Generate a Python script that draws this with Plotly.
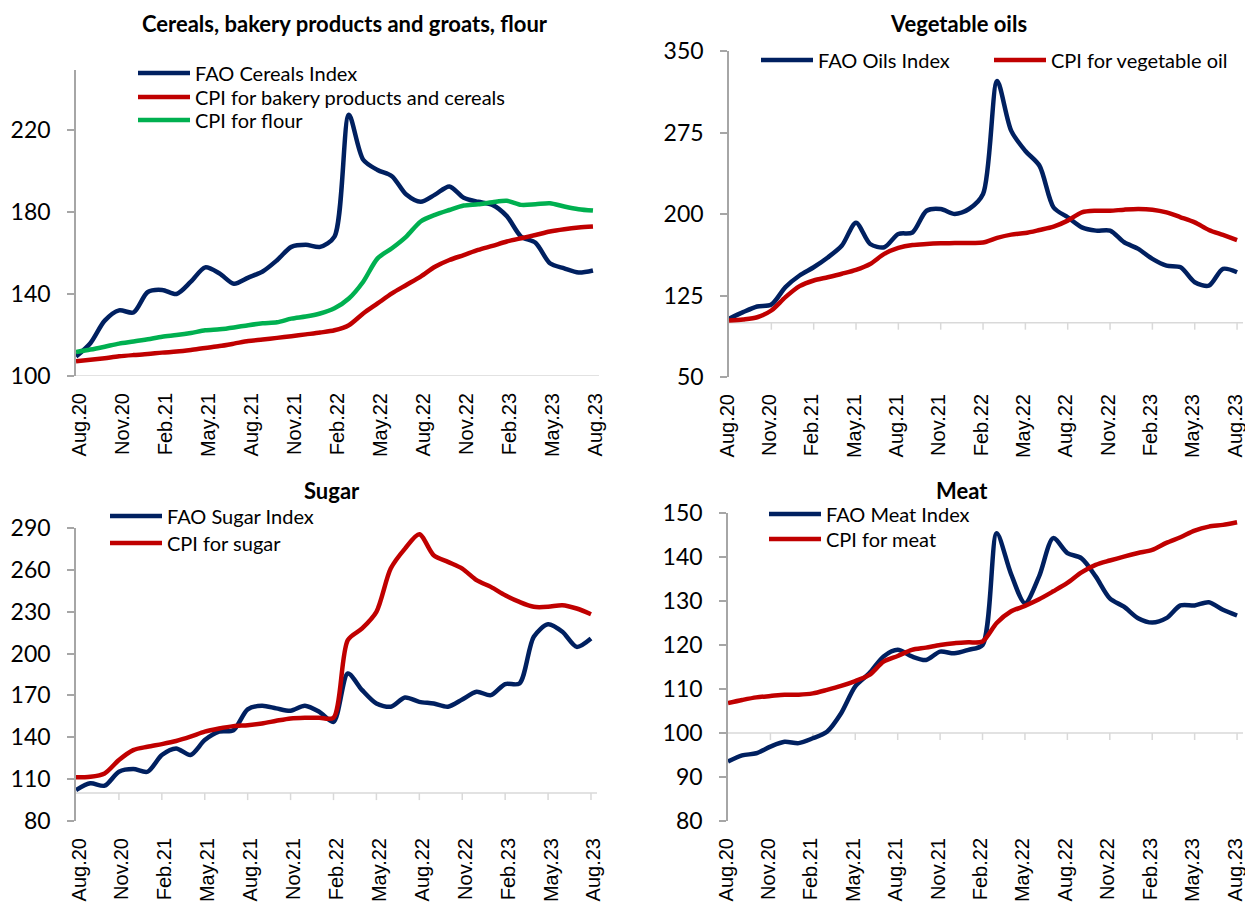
import plotly.graph_objects as go

# the page puts the chart 8px in from the top-left corner, so the figure is that much smaller
PAGE_OFF = 8
W, H = 1253 - PAGE_OFF, 908 - PAGE_OFF

# months on the x axis (Aug.20 .. Aug.23), labelled every 3rd
months = ["Aug.20", "Sep.20", "Oct.20", "Nov.20", "Dec.20", "Jan.21", "Feb.21", "Mar.21",
          "Apr.21", "May.21", "Jun.21", "Jul.21", "Aug.21", "Sep.21", "Oct.21", "Nov.21",
          "Dec.21", "Jan.22", "Feb.22", "Mar.22", "Apr.22", "May.22", "Jun.22", "Jul.22",
          "Aug.22", "Sep.22", "Oct.22", "Nov.22", "Dec.22", "Jan.23", "Feb.23", "Mar.23",
          "Apr.23", "May.23", "Jun.23", "Jul.23", "Aug.23"]
tick_months = months[::3]

# cereals panel
fao_cereals = [109.5, 116, 127, 132, 131, 141, 142, 140, 146, 153, 150, 145, 148, 151, 156.5,
               163, 164, 163, 168, 227.5, 205.5, 200.5, 197.5, 188.5, 185, 188.5, 192.5, 187,
               185, 183.5, 178, 168, 165, 155, 152.5, 150.5, 151.5]
cpi_bakery = [107.2, 107.9, 108.7, 109.6, 110.2, 110.7, 111.4, 111.9, 112.7, 113.7, 114.6,
              115.8, 117.1, 117.8, 118.6, 119.4, 120.3, 121.2, 122.3, 124.8, 130.5, 135.4,
              140.3, 144.4, 148.5, 153.3, 156.6, 159, 161.5, 163.5, 165.6, 167.2, 168.8,
              170.5, 171.6, 172.4, 172.9]
cpi_flour = [111.7, 112.9, 114.3, 115.8, 116.8, 117.9, 119.2, 120.0, 121.0, 122.3, 122.8,
             123.7, 124.8, 125.7, 126.2, 128.0, 129.0, 130.5, 133.0, 137.8, 146.0, 157.4,
             162.3, 168.0, 175.4, 178.6, 181.0, 183.2, 183.8, 184.8, 185.5, 183.5, 183.8,
             184.3, 182.7, 181.4, 180.7]

# vegetable oils panel
fao_oils = [103.6, 109.7, 114.9, 116.7, 132.7, 143.4, 151, 160, 171, 192, 172.4, 169.4,
            181.6, 183, 203, 204.6, 200, 204.6, 218.4, 322.4, 276.5, 258, 244.4, 206, 197,
            187.7, 184.7, 184.7, 174, 167.9, 158.7, 152.5, 151, 137.2, 134, 149.5, 146.4]
cpi_vegoil = [102, 103, 105, 111.2, 123.5, 133.6, 138.8, 141.8, 145, 148.6, 154, 163.3,
              168.8, 171.5, 172.4, 173, 173.4, 173.4, 173.7, 178, 181, 182.5, 185.3, 188.4,
              193.9, 201.5, 203, 203, 204, 204.6, 204, 201.5, 197, 192.3, 185.3, 180.7, 176]

# sugar panel
fao_sugar = [102.2, 107, 105.3, 115.3, 117.2, 115.3, 127.3, 132, 127.3, 138, 144, 145, 160,
             162.6, 160.7, 159, 162.6, 158.3, 151, 185.7, 173.8, 164.2, 161.9, 168.5, 165.4,
             164.2, 161.9, 167.1, 172.6, 170.2, 178.1, 178.6, 212, 221, 215.6, 204.8, 210.8]
cpi_sugar = [111.3, 111.7, 114.1, 123.7, 130.8, 133.2, 135.1, 137.3, 140.4, 144, 146.3, 148,
             148.7, 149.9, 151.8, 153.5, 154, 154, 154, 209.6, 218, 229.9, 260.9, 275.2,
             285.5, 270.5, 265.7, 260.9, 252.6, 247.8, 241.8, 237, 233.5, 233.5, 234.7,
             232.3, 228.2]

# meat panel
fao_meat = [93.5, 94.9, 95.4, 96.9, 98, 97.7, 98.8, 100.3, 104.5, 110.6, 113.6, 117.4, 118.9,
            117.4, 116.6, 118.5, 118.1, 118.9, 120, 145.4, 136.3, 129.5, 135.6, 144.3, 140.9,
            139.7, 135.6, 130.6, 128.7, 126.1, 125.1, 126.1, 129, 129, 129.7, 128, 126.7]
cpi_meat = [106.8, 107.5, 108.1, 108.4, 108.7, 108.7, 109, 109.8, 110.7, 111.8, 113.2, 116.2,
            117.5, 118.9, 119.4, 120, 120.4, 120.6, 120.8, 125, 127.6, 128.9, 130.4, 132.2,
            134.1, 136.5, 138.2, 139.2, 140.1, 140.9, 141.6, 143.2, 144.5, 146, 146.9, 147.3,
            147.9]

NAVY = "#002060"
RED = "#C00000"
GREEN = "#00B050"
LABEL_FONT = "Lato, 'Open Sans', sans-serif"
TICK_FONT = "'Liberation Sans', Arial, sans-serif"


def fx(p):
    # screen pixel -> paper fraction
    return (p - PAGE_OFF) / W


def fy(p):
    return 1 - (p - PAGE_OFF) / H


# pixel boxes (screen) of each plot area: left, right, top, bottom
# series: (name, values, colour, legend row position in px)
panels = [
    dict(ax="", title="Cereals, bakery products and groats, flour", box=(76, 599, 70, 376),
         yrange=[100, 249.3], yticks=[100, 140, 180, 220], title_xy=(345, 23), ticks=False,
         shift=3,
         series=[("FAO Cereals Index", fao_cereals, NAVY, (140, 73)),
                 ("CPI for bakery products and cereals", cpi_bakery, RED, (140, 97)),
                 ("CPI for flour", cpi_flour, GREEN, (140, 120))]),
    dict(ax="2", title="Vegetable oils", box=(729, 1243, 51, 377),
         yrange=[50, 350], yticks=[50, 125, 200, 275, 350], title_xy=(958, 23), ticks=True,
         shift=-2,
         series=[("FAO Oils Index", fao_oils, NAVY, (763, 60)),
                 ("CPI for vegetable oil", cpi_vegoil, RED, (996, 60))]),
    dict(ax="3", title="Sugar", box=(76, 597, 528, 821),
         yrange=[80, 290], yticks=[80, 110, 140, 170, 200, 230, 260, 290], title_xy=(332, 490),
         ticks=True, shift=3,
         series=[("FAO Sugar Index", fao_sugar, NAVY, (112, 516)),
                 ("CPI for sugar", cpi_sugar, RED, (112, 543))]),
    dict(ax="4", title="Meat", box=(728, 1243, 513, 821),
         yrange=[80, 150], yticks=[80, 90, 100, 110, 120, 130, 140, 150], title_xy=(962, 490),
         ticks=True, shift=-2,
         series=[("FAO Meat Index", fao_meat, NAVY, (771, 514)),
                 ("CPI for meat", cpi_meat, RED, (771, 539))]),
]

fig = go.Figure()
layout = {}
shapes = []
annotations = []
n_leg = 0

for p in panels:
    ax = p["ax"]
    left, right, top, bottom = p["box"]
    xname, yname = "x" + ax, "y" + ax

    for name, vals, color, (lx, ly) in p["series"]:
        n_leg += 1
        leg = "legend" if n_leg == 1 else "legend%d" % n_leg
        fig.add_trace(go.Scatter(
            x=months, y=vals, name=name, mode="lines",
            line=dict(color=color, width=4.5, shape="spline", smoothing=0.8),
            xaxis=xname, yaxis=yname, legend=leg,
        ))
        layout[leg] = dict(x=fx(lx - 7), y=fy(ly), xanchor="left", yanchor="middle",
                           bgcolor="rgba(0,0,0,0)", itemwidth=52,
                           font=dict(family=LABEL_FONT, size=20, color="#000000"))

    layout["xaxis" + ax] = dict(
        domain=[fx(left), fx(right)], anchor=yname, type="category",
        range=[0, 36.42], showline=False, showgrid=False, zeroline=False, automargin=False,
        tickmode="array", tickvals=tick_months, ticktext=tick_months,
        tickangle=-90, ticks="", ticklabelstandoff=12, ticklabelshift=p["shift"],
        tickfont=dict(family=TICK_FONT, size=20, color="#000000"),
    )
    layout["yaxis" + ax] = dict(
        domain=[fy(bottom), fy(top)], anchor=xname, range=p["yrange"], automargin=False,
        showline=True, linecolor="#A6A6A6", linewidth=1.5, showgrid=False, zeroline=False,
        tickmode="array", tickvals=p["yticks"], ticks="outside", ticklen=7,
        tickcolor="#A6A6A6", tickwidth=1.5, ticklabelstandoff=12,
        tickfont=dict(family=LABEL_FONT, size=23, color="#000000"),
    )

    # horizontal axis crosses the value axis at 100
    shapes.append(dict(type="line", xref=xname + " domain", yref=yname,
                       x0=0, x1=1, y0=100, y1=100, layer="below",
                       line=dict(color="#D9D9D9", width=1.5)))
    if p["ticks"]:
        for m in tick_months[1:]:
            idx = months.index(m)
            shapes.append(dict(type="line", xref=xname, yref=yname, ysizemode="pixel",
                               yanchor=100, x0=idx, x1=idx, y0=0, y1=-7, layer="below",
                               line=dict(color="#D9D9D9", width=1.5)))

    annotations.append(dict(text="<b>" + p["title"] + "</b>", xref="paper", yref="paper",
                            x=fx(p["title_xy"][0]), y=fy(p["title_xy"][1]),
                            xanchor="center", yanchor="middle", showarrow=False,
                            font=dict(family=LABEL_FONT, size=22, color="#000000")))

fig.update_layout(
    width=W, height=H,
    margin=dict(l=0, r=0, t=0, b=0, autoexpand=False),
    paper_bgcolor="white", plot_bgcolor="white",
    showlegend=True,
    shapes=shapes, annotations=annotations,
    **layout,
)

fig.write_html("out.html")
